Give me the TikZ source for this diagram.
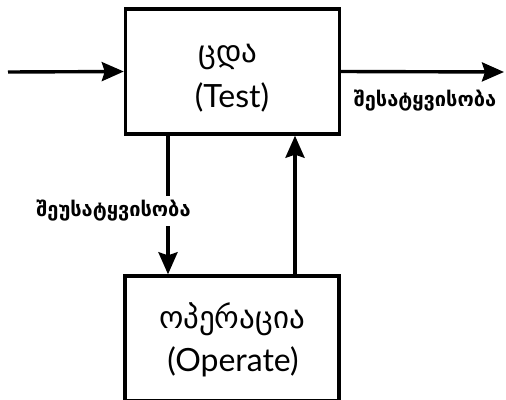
\documentclass[tikz,border=0pt]{standalone}
\usepackage{fontspec}
\setmainfont{DejaVu Sans}
\newfontfamily\latinfont{Lato}
\usetikzlibrary{arrows.meta}
\begin{document}
\begin{tikzpicture}[x=1pt,y=-1pt,
  box/.style={draw,line width=3.4pt,minimum width=214pt,minimum height=125pt,inner sep=0pt},
  arr/.style={line width=3.4pt,-{Stealth[length=22pt,width=19pt,inset=3pt]}},
  big/.style={font=\fontsize{32}{36}\selectfont},
  geo/.style={font=\fontsize{31}{34}\selectfont},
  small/.style={font=\fontsize{20}{22}\selectfont\bfseries}]
\clip (0,0) rectangle (506,399);
\node[box] (test) at (232.5,71.5) {};
\node[box] (op) at (232,338.5) {};
\node[geo] (t1) at (228,57) {ცდა};
\node[big] (t2) at (232,97) {\latinfont (Test)};
\node[geo] (o1) at (232,319) {ოპერაცია};
\node[big] (o2) at (233,362) {\latinfont (Operate)};
\coordinate (in) at (8,72);
\coordinate (out) at (504,72);
\coordinate (dl) at (168,0);
\coordinate (dr) at (295,0);
\draw[arr] (in) -- (test.west);
\draw[arr] (test.east) -- (out);
\draw[arr] (test.south -| dl) -- (op.north -| dl);
\draw[arr] (op.north -| dr) -- (test.south -| dr);
\node[small] (lab1) at (425,101) {შესატყვისობა};
\node[small,fill=white,inner xsep=1pt,inner ysep=4pt] (lab2) at (113.5,211) {შეუსატყვისობა};
\end{tikzpicture}
\end{document}
